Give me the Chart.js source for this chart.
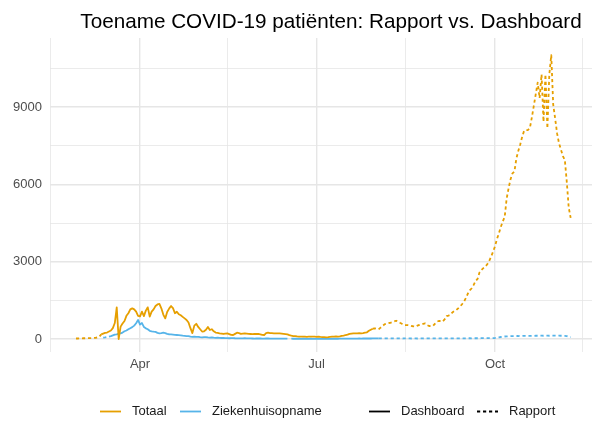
<!DOCTYPE html>
<html>
<head>
<meta charset="utf-8">
<script src="https://cdn.jsdelivr.net/npm/chart.js@4/dist/chart.umd.min.js"></script>
<style>
  html, body { margin: 0; padding: 0; background: #fff; }
  canvas { display: block; }
</style>
</head>
<body>
<canvas id="chart" width="592" height="422"></canvas>
<script>
// --- data (daily values) ---
const totaalDashStart = '2020-03-12';
const totaalDash = [
  180, 210, 240, 250, 290, 330, 420, 620, 1230, 0, 480, 600, 700, 900, 1000, 1150, 1190, 1150, 1060, 900,
  880, 1060, 890, 1100, 1230, 870, 1060, 1150, 1280, 1340, 1360, 1190, 950, 800, 1050, 1180, 1280, 1200, 1000, 1060,
  960, 920, 860, 800, 740, 640, 420, 230, 520, 590,
  470, 380, 290, 300, 360, 470, 350, 380, 300, 250, 240, 220, 210, 195, 210, 220, 190, 160, 155, 200,
  245, 230, 200, 210, 220, 210, 200, 195, 190, 200, 195,
  195, 180, 160, 155, 230, 245, 230, 225, 220, 215, 220, 220, 210, 200, 190, 180, 150, 130, 115, 110,
  100, 95, 95, 90, 90, 85, 90, 95, 90, 90,
  85, 90, 80, 75, 70, 65, 70, 80, 90, 95, 100, 90, 100, 120, 130, 155, 170, 200, 210, 220,
  220, 215, 225, 220, 230, 245, 260, 320, 360, 400
];

const totaalRapStart1 = '2020-02-28';
const totaalRap1 = [20, 20, 25, 25, 30, 30, 30, 35, 35, 40, 45, 60, 90, 180];

const totaalRapStart2 = '2020-07-30';
const totaalRap2 = [
  400, 415,
  390, 375, 440, 500, 570, 600, 620, 630, 650, 680, 710, 680, 630, 590, 550, 540, 540, 530, 505, 490,
  480, 520, 550, 580, 590, 610, 540, 505, 500, 505, 590,
  670, 700, 700, 680, 760, 890, 910, 940, 1030, 1080, 1120, 1190, 1260, 1350, 1450, 1590, 1760, 1890, 1970, 2100,
  2250, 2330, 2580, 2680, 2750, 2810, 2900, 3030, 3200, 3390,
  3600, 3880, 4100, 4350, 4560, 4740, 5450, 5850, 6200, 6430, 6500, 7000, 7300, 7550, 7850, 8080, 8110, 8110, 8200, 8600,
  9050, 9500, 9950, 9350, 10270, 8430, 10270, 8175, 10270, 11020, 9100,
  8560, 7980, 7600, 7350, 7100, 6945, 6100, 5100, 4700
];

const zhDashStart = '2020-03-16';
const zhDash = [
  90, 110, 140, 170, 180, 210, 220, 250, 300, 330, 380, 420, 460, 520, 610, 740,
  560, 620, 470, 415, 380, 320, 300, 285, 275, 240, 220, 230, 245, 230, 200, 185, 180, 170, 160, 155,
  150, 145, 130, 120, 110, 115, 90, 80, 95, 85,
  80, 70, 65, 75, 70, 60, 55, 60, 50, 45, 50, 45, 40, 40, 35, 38, 30, 32, 35, 30,
  28, 25, 22, 25, 30, 28, 25, 22, 20, 18, 20,
  22, 20, 18, 17, 20, 19, 15, 16, 18, 17, 15, 14, 15, 13, 14, 12, null, 12, 11, 10,
  12, 10, 9, 11, 10, 8, 9, 10, 8, 9,
  8, 9, 7, 8, 9, 10, 8, 9, 11, 10, 12, 11, 13, 12, 14, 15, 14, 16, 17, 15,
  18, 17, 19, 18, 20, 21, 19, 22, 20, 21, 23,
  22, 24
];

const zhRapStart1 = '2020-03-13';
const zhRap1 = [50, 60, 75, 90];

const zhRapStart2 = '2020-08-02';
const zhRap2 = [
  24, 25, 23, 22, 24, 25, 23, 22, 21, 23, 24, 22, 20, 21, 22, 23, 21, 20, 22, 21,
  20, 22, 23, 21, 20, 22, 24, 23, 22, 24,
  25, 24, 26, 25, 24, 26, 27, 25, 26, 28, 27, 26, 28, 29, 27, 28, 30, 29, 28, 30,
  31, 30, 29, 31, 32, 30, 31, 33, 32, 34,
  40, 52, 64, 78, 90, 98, 104, 108, 112, 115, 114, 118, 116, 120, 118, 122, 120, 124, 122, 126,
  124, 128, 126, 130, 128, 126, 130, 128, 127, 130, 128,
  130, 128, 131, 127, 125, 122, 115, 90, 70
];

const xTickDates = ['2020-02-15', '2020-04-01', '2020-05-16', '2020-07-01', '2020-08-16', '2020-10-01', '2020-11-15'];
const xTickLabels = ['', 'Apr', '', 'Jul', '', 'Oct', ''];
const yTicks = [0, 1500, 3000, 4500, 6000, 7500, 9000, 10500];
const yLabelTicks = [0, 3000, 6000, 9000];

const ORANGE = '#E69F00';
const BLUE = '#56B4E9';
const DOTS = [3.2, 2.8];
const LW = 1.8;
const GRID = '#e6e6e6';
const FONT = '"Liberation Sans", Arial, Helvetica, sans-serif';

function dayNum(s) {
    const p = s.split('-').map(Number);
    return (Date.UTC(p[0], p[1] - 1, p[2]) - Date.UTC(2020, 0, 1)) / 86400000;
}
function toPoints(start, values) {
    const d0 = dayNum(start);
    return values.map((v, i) => ({ x: d0 + i, y: v }));
}

const xTickValues = xTickDates.map(dayNum);

function lineSet(label, points, color, dashed) {
    return {
        label: label,
        data: points,
        borderColor: color,
        borderWidth: LW,
        borderDash: dashed ? DOTS : [],
        pointRadius: 0,
        tension: 0,
        spanGaps: false,
        borderJoinStyle: 'round'
    };
}

// title + legend drawn by hand (ggplot-like layout)
const decorPlugin = {
    id: 'decor',
    afterDraw(chart) {
        const ctx = chart.ctx;
        ctx.save();
        ctx.fillStyle = '#000';
        ctx.font = '20.7px ' + FONT;
        ctx.textAlign = 'center';
        ctx.textBaseline = 'alphabetic';
        ctx.fillText('Toename COVID-19 patiënten: Rapport vs. Dashboard', 331, 28);

        const y = 411.5;
        const items = [
            { x: 100, color: ORANGE, dash: [], text: 'Totaal' },
            { x: 180, color: BLUE, dash: [], text: 'Ziekenhuisopname' },
            { x: 369, color: '#000', dash: [], text: 'Dashboard' },
            { x: 477, color: '#000', dash: DOTS, text: 'Rapport' }
        ];
        ctx.font = '13px ' + FONT;
        ctx.textAlign = 'left';
        ctx.textBaseline = 'middle';
        items.forEach(it => {
            ctx.beginPath();
            ctx.strokeStyle = it.color;
            ctx.lineWidth = LW;
            ctx.setLineDash(it.dash);
            ctx.moveTo(it.x, y);
            ctx.lineTo(it.x + 21, y);
            ctx.stroke();
            ctx.setLineDash([]);
            ctx.fillStyle = '#1a1a1a';
            ctx.fillText(it.text, it.x + 32, y);
        });
        ctx.restore();
    }
};

const ctx = document.getElementById('chart').getContext('2d');
const chart = new Chart(ctx, {
    type: 'line',
    data: {
        datasets: [
            lineSet('Totaal Rapport', toPoints(totaalRapStart1, totaalRap1), ORANGE, true),
            lineSet('Totaal Rapport 2', toPoints(totaalRapStart2, totaalRap2), ORANGE, true),
            lineSet('Totaal Dashboard', toPoints(totaalDashStart, totaalDash), ORANGE, false),
            lineSet('Ziekenhuisopname Rapport', toPoints(zhRapStart1, zhRap1), BLUE, true),
            lineSet('Ziekenhuisopname Rapport 2', toPoints(zhRapStart2, zhRap2), BLUE, true),
            lineSet('Ziekenhuisopname Dashboard', toPoints(zhDashStart, zhDash), BLUE, false)
        ]
    },
    options: {
        responsive: false,
        animation: false,
        layout: { padding: { top: 38, bottom: 50, left: 0, right: 0 } },
        plugins: {
            legend: { display: false },
            title: { display: false },
            tooltip: { enabled: false }
        },
        scales: {
            x: {
                type: 'linear',
                min: 44.6,
                max: 324,
                border: { display: false },
                grid: {
                    color: GRID,
                    drawTicks: false,
                    lineWidth: c => (c.tick && xTickLabels[xTickValues.indexOf(c.tick.value)]) ? 1.4 : 0.8
                },
                ticks: {
                    autoSkip: false,
                    maxRotation: 0,
                    padding: 5,
                    color: '#4d4d4d',
                    font: { family: FONT, size: 13 },
                    callback: v => {
                        const i = xTickValues.indexOf(v);
                        return i >= 0 ? xTickLabels[i] : '';
                    }
                },
                afterBuildTicks: s => { s.ticks = xTickValues.map(v => ({ value: v })); },
                afterFit: s => { s.height = 20; }
            },
            y: {
                type: 'linear',
                min: -504,
                max: 11682,
                border: { display: false },
                grid: {
                    color: GRID,
                    drawTicks: false,
                    lineWidth: c => (c.tick && yLabelTicks.includes(c.tick.value)) ? 1.4 : 0.8
                },
                ticks: {
                    padding: 8,
                    color: '#4d4d4d',
                    font: { family: FONT, size: 13 },
                    callback: v => yLabelTicks.includes(v) ? String(v) : ''
                },
                afterBuildTicks: s => { s.ticks = yTicks.map(v => ({ value: v })); },
                afterFit: s => { s.width = 50; }
            }
        }
    },
    plugins: [decorPlugin]
});
</script>
</body>
</html>
